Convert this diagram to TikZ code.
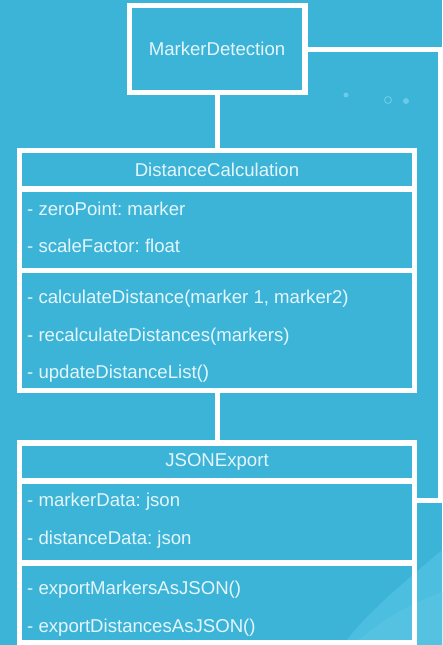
\documentclass[tikz,border=0pt]{standalone}
\usepackage{fontspec}
\setmainfont{Liberation Sans}
\usepackage{tikz}
\definecolor{fundo}{HTML}{3CB4D8}
\definecolor{onda}{HTML}{4CBEE0}
\definecolor{ondaclara}{HTML}{55C2E2}
\definecolor{texto}{HTML}{E4F6FB}
\definecolor{ponto}{HTML}{6ACAE7}
\frenchspacing

\begin{document}
\begin{tikzpicture}[x=1pt, y=-1pt,
    caixa/.style={draw=white, line width=5.5pt, minimum width=395pt, inner sep=0pt, outer sep=0pt,
                  text=texto, font=\fontsize{18.6}{20}\selectfont},
    ligacao/.style={draw=white, line width=5pt},
    membro/.style={text=texto, font=\fontsize{18.6}{20}\selectfont, anchor=base west, inner sep=0pt}]
    % Fundo
    \fill[fundo] (0,0) rectangle (442,645);
    \useasboundingbox (0,0) rectangle (442,645);
    \fill[onda] (343,645) .. controls (365,615) and (395,590) .. (442,550) -- (442,645) -- cycle;
    \fill[ondaclara] (353,645) .. controls (375,625) and (400,608) .. (442,592) -- (442,645) -- cycle;
    \fill[ponto] (346,95) circle (2.5pt);
    \draw[ponto, line width=1pt] (388,100) circle (3.5pt);
    \fill[ponto] (406,101) circle (3pt);

    % MarkerDetection
    \node[caixa, minimum width=175.5pt, minimum height=87pt] (md) at (217,49) {MarkerDetection};

    % DistanceCalculation
    \node[caixa, minimum height=38.5pt] (dccab) at (217,169.75) {DistanceCalculation};
    \node[caixa, minimum height=81.5pt] (dcatr) at (217,229.75) {};
    \node[caixa, minimum height=120pt] (dcmet) at (217,330.5) {};
    \node[membro] (zp) at (27,215) {- zeroPoint: marker};
    \node[membro] (sf) at (27,252.7) {- scaleFactor: float};
    \node[membro] (cd) at (27,303.3) {- calculateDistance(marker 1, marker2)};
    \node[membro] (rd) at (27,341) {- recalculateDistances(markers)};
    \node[membro] (ud) at (27,378.3) {- updateDistanceList()};

    % JSONExport
    \node[caixa, minimum height=38pt] (jscab) at (217,462) {JSONExport};
    \node[caixa, minimum height=82pt] (jsatr) at (217,522) {};
    \node[caixa, minimum height=80pt] (jsmet) at (217,603) {};
    \node[membro] (mdat) at (27,506.7) {- markerData: json};
    \node[membro] (ddat) at (27,544.3) {- distanceData: json};
    \node[membro] (em) at (27,594.3) {- exportMarkersAsJSON()};
    \node[membro] (ed) at (27,632.3) {- exportDistancesAsJSON()};

    % Ligacoes
    \coordinate (c1) at (440,49);
    \coordinate (c2) at (440,500);
    \draw[ligacao] (md.south) -- (dccab.north);
    \draw[ligacao] (dcmet.south) -- (jscab.north);
    \draw[ligacao] (md.east) -- (c1) -- (c2) -- (c2 -| jsatr.east);
\end{tikzpicture}
\end{document}
